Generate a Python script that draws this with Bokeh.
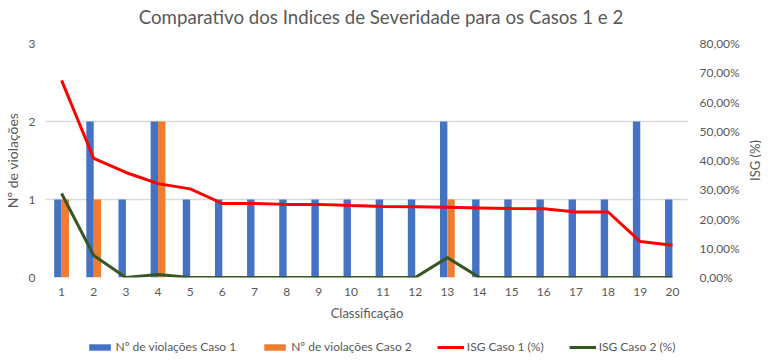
import math
from bokeh.plotting import figure
from bokeh.models import Range1d, FixedTicker, Legend, LegendItem, ColumnDataSource
from bokeh.layouts import column, row
from bokeh.transform import dodge
from bokeh.core.properties import value
from bokeh.embed import file_html
from bokeh.resources import INLINE

title_text = "Comparativo dos Indices de Severidade para os Casos 1 e 2"
categories = list(range(1, 21))
violacoes_caso1 = [1, 2, 1, 2, 1, 1, 1, 1, 1, 1, 1, 1, 2, 1, 1, 1, 1, 1, 2, 1]
violacoes_caso2 = [1, 1, 0, 2, 0, 0, 0, 0, 0, 0, 0, 0, 1, 0, 0, 0, 0, 0, 0, 0]
isg_caso1 = [67.4, 40.7, 35.9, 32.1, 30.3, 25.3, 25.3, 25.0, 25.0, 24.6, 24.3, 24.2, 24.0, 23.8, 23.6, 23.5, 22.4, 22.4, 12.3, 11.0]
isg_caso2 = [28.7, 7.5, 0.0, 1.0, 0.0, 0.0, 0.0, 0.0, 0.0, 0.0, 0.0, 0.0, 6.8, 0.0, 0.0, 0.0, 0.0, 0.0, 0.0, 0.0]
left_ticks = [0, 1, 2, 3]
right_ticks = [0, 10, 20, 30, 40, 50, 60, 70, 80]
right_tick_labels = ["0,00%", "10,00%", "20,00%", "30,00%", "40,00%", "50,00%", "60,00%", "70,00%", "80,00%"]
right_axis_title = "ISG (%)"
legend_labels = ["Nº de violações Caso 1", "Nº de violações Caso 2", "ISG Caso 1 (%)", "ISG Caso 2 (%)"]

FONT = "Lato"
GRAY = "#595959"
C_BLUE, C_ORANGE, C_RED, C_GREEN = "#4472C4", "#ED7D31", "#FF0000", "#375623"
W = 761
W_SIDE = 73          # width of the right-axis strip
H_MAIN = 294
B_TOP, B_BOTTOM = 13, 47
ISG_MAX = 80


def blank(width, height, xr, yr):
    f = figure(width=width, height=height, output_backend="svg", toolbar_location=None,
               x_range=Range1d(*xr), y_range=Range1d(*yr),
               x_axis_type=None, y_axis_type=None, min_border=0, frame_align=False)
    f.outline_line_color = None
    f.grid.visible = False
    return f


# ---- title strip ----
pt = blank(W, 30, (0, 1), (0, 30))
pt.text(x=[0.5], y=[13.5], text=[title_text], text_align="center", text_baseline="middle",
        text_font=value(FONT), text_font_size="18.7px", text_color=GRAY)

# ---- main chart ----
src = ColumnDataSource(dict(x=categories, c1=violacoes_caso1, c2=violacoes_caso2, i1=isg_caso1, i2=isg_caso2))

p = figure(width=W - W_SIDE, height=H_MAIN, output_backend="svg", toolbar_location=None,
           x_range=Range1d(0.5, 20.5), y_range=Range1d(0, 3), frame_align=False,
           min_border_left=39, min_border_right=0, min_border_top=B_TOP, min_border_bottom=B_BOTTOM)
p.outline_line_color = None
p.extra_y_ranges = {"isg": Range1d(0, ISG_MAX)}

p.vbar(x=dodge("x", -0.115, range=p.x_range), top="c1", width=0.23, source=src,
       fill_color=C_BLUE, line_color=None)
p.vbar(x=dodge("x", 0.115, range=p.x_range), top="c2", width=0.23, source=src,
       fill_color=C_ORANGE, line_color=None)
p.line(x="x", y="i1", source=src, line_color=C_RED, line_width=3, y_range_name="isg")
p.line(x="x", y="i2", source=src, line_color=C_GREEN, line_width=3, y_range_name="isg")

for ax in [p.xaxis[0], p.yaxis[0]]:
    ax.axis_line_color = None
    ax.major_tick_line_color = None
    ax.minor_tick_line_color = None
    ax.major_tick_out = 0
    ax.major_tick_in = 0
    ax.minor_tick_out = 0
    ax.minor_tick_in = 0
    ax.major_label_text_font = FONT
    ax.major_label_text_font_size = "12px"
    ax.major_label_text_color = GRAY
    ax.axis_label_text_font = FONT
    ax.axis_label_text_font_style = "normal"
    ax.axis_label_text_color = GRAY

p.xaxis.ticker = FixedTicker(ticks=categories)
p.xaxis.axis_label = "Classificação"
p.xaxis.axis_label_text_font_size = "13px"
p.xaxis.major_label_standoff = 10
p.xaxis.axis_label_standoff = 6

p.yaxis[0].ticker = FixedTicker(ticks=left_ticks)
p.yaxis[0].axis_label = "Nº de violações"
p.yaxis[0].axis_label_text_font_size = "14px"
p.yaxis[0].major_label_standoff = 10
p.yaxis[0].axis_label_standoff = 5

p.xgrid.grid_line_color = None
p.ygrid.grid_line_color = "#D9D9D9"
p.ygrid.grid_line_width = 1.5

# ---- right (ISG %) axis strip: same vertical scale as the main frame ----
frame_h = H_MAIN - B_TOP - B_BOTTOM
per_px = ISG_MAX / frame_h
ps = blank(W_SIDE, H_MAIN, (0, W_SIDE), (-B_BOTTOM * per_px, ISG_MAX + B_TOP * per_px))
ps.text(x=[11] * len(right_ticks), y=right_ticks, text=right_tick_labels,
        text_align="left", text_baseline="middle",
        text_font=value(FONT), text_font_size="12px", text_color=GRAY)
ps.text(x=[66], y=[ISG_MAX / 2], text=[right_axis_title], angle=math.pi / 2,
        text_align="center", text_baseline="middle",
        text_font=value(FONT), text_font_size="13px", text_color=GRAY)

# ---- legend strip ----
pl = blank(W, 31, (0, 1), (0, 1))
# swatch-only renderers, drawn outside the visible range
dummy = ColumnDataSource(dict(x=[-5, -4], y=[-5, -4]))
r1 = pl.vbar(x="x", top="y", width=0.1, source=dummy, fill_color=C_BLUE, line_color=None)
r2 = pl.vbar(x="x", top="y", width=0.1, source=dummy, fill_color=C_ORANGE, line_color=None)
r3 = pl.line(x="x", y="y", source=dummy, line_color=C_RED, line_width=3)
r4 = pl.line(x="x", y="y", source=dummy, line_color=C_GREEN, line_width=3)
legend = Legend(items=[LegendItem(label=lab, renderers=[r]) for lab, r in zip(legend_labels, [r1, r2, r3, r4])],
                orientation="horizontal", location="bottom_center")
legend.label_text_font = FONT
legend.label_text_font_size = "12px"
legend.label_text_color = GRAY
legend.glyph_width = 27
legend.glyph_height = 8
legend.label_standoff = 3
legend.spacing = 25
legend.padding = 0
legend.margin = 1
legend.border_line_color = None
legend.background_fill_alpha = 0
pl.add_layout(legend)

layout = column(pt, row(p, ps, spacing=0), pl, spacing=0)
open("out.html", "w").write(file_html(layout, INLINE))
